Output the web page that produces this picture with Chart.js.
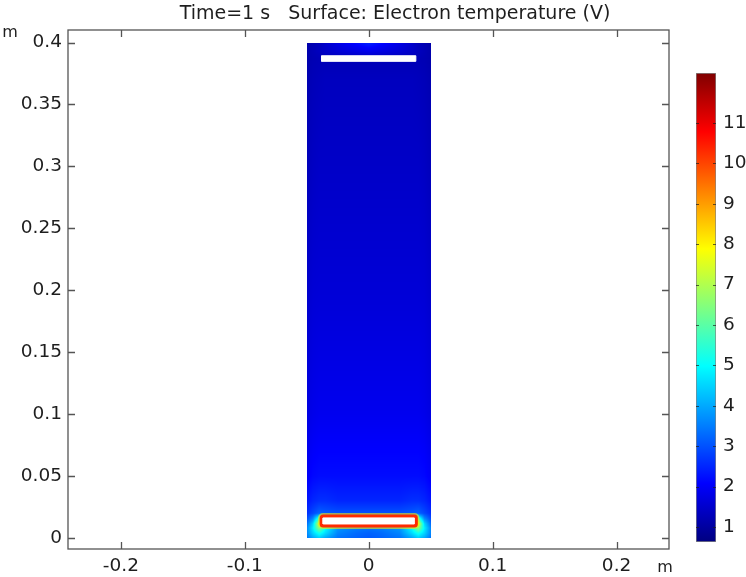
<!DOCTYPE html>
<html>
<head>
<meta charset="utf-8">
<script src="https://cdn.jsdelivr.net/npm/chart.js@4.4.1/dist/chart.umd.min.js"></script>
<style>
  html, body { margin: 0; padding: 0; background: #fff; }
  #wrap { position: relative; width: 746px; height: 577px; }
  #plot { position: absolute; left: 0; top: 0; }
  #cbar { position: absolute; left: 680px; top: 60px; }
</style>
</head>
<body>
<div id="wrap">
  <canvas id="plot" width="746" height="577"></canvas>
  <canvas id="cbar" width="66" height="490"></canvas>
</div>
<script>
// axes
const xRange = [-0.2427, 0.2423]
const yRange = [-0.0089, 0.4101]
const xTicks = [-0.2, -0.1, 0, 0.1, 0.2]
const xTickLabels = ['-0.2', '-0.1', '0', '0.1', '0.2']
const yTicks = [0, 0.05, 0.1, 0.15, 0.2, 0.25, 0.3, 0.35, 0.4]
const yTickLabels = ['0', '0.05', '0.1', '0.15', '0.2', '0.25', '0.3', '0.35', '0.4']

// colour bar (electron temperature, V)
const cbRange = [0.63, 12.24]
const cbTicks = [1, 2, 3, 4, 5, 6, 7, 8, 9, 10, 11]

// electron temperature sampled on the chamber cross-section
const fieldX = [-0.05, -0.045, -0.04, -0.035, -0.025, -0.01, 0, 0.01, 0.025, 0.035, 0.04, 0.045, 0.05]
const fieldY = [0, 0.004, 0.008, 0.0115, 0.016, 0.02, 0.03, 0.05, 0.1, 0.2, 0.3, 0.37, 0.387, 0.393, 0.4]
const fieldTe = [
  [3.4, 4.0, 4.4, 4.0, 3.4, 3.2, 3.1, 3.2, 3.4, 4.0, 4.4, 4.0, 3.4],
  [3.6, 4.5, 5.2, 4.6, 3.6, 3.3, 3.2, 3.3, 3.6, 4.6, 5.2, 4.5, 3.6],
  [3.6, 4.8, 6.6, 5.0, 3.8, 3.5, 3.4, 3.5, 3.8, 5.0, 6.6, 4.8, 3.6],
  [3.3, 4.5, 7.5, 6.0, 5.5, 5.5, 5.5, 5.5, 5.5, 6.0, 7.5, 4.5, 3.3],
  [2.9, 3.6, 5.5, 5.0, 4.5, 4.5, 4.5, 4.5, 4.5, 5.0, 5.5, 3.6, 2.9],
  [2.6, 2.9, 3.2, 3.1, 3.0, 3.0, 3.0, 3.0, 3.0, 3.1, 3.2, 2.9, 2.6],
  [2.3, 2.5, 2.6, 2.6, 2.5, 2.5, 2.5, 2.5, 2.5, 2.6, 2.6, 2.5, 2.3],
  [2.0, 2.15, 2.2, 2.2, 2.2, 2.2, 2.2, 2.2, 2.2, 2.2, 2.2, 2.15, 2.0],
  [1.75, 1.85, 1.9, 1.9, 1.9, 1.9, 1.9, 1.9, 1.9, 1.9, 1.9, 1.85, 1.75],
  [1.5, 1.6, 1.62, 1.62, 1.62, 1.62, 1.62, 1.62, 1.62, 1.62, 1.62, 1.6, 1.5],
  [1.3, 1.4, 1.45, 1.45, 1.45, 1.45, 1.45, 1.45, 1.45, 1.45, 1.45, 1.4, 1.3],
  [1.2, 1.28, 1.32, 1.35, 1.35, 1.35, 1.35, 1.35, 1.35, 1.35, 1.32, 1.28, 1.2],
  [1.15, 1.22, 1.25, 1.25, 1.25, 1.25, 1.25, 1.25, 1.25, 1.25, 1.25, 1.22, 1.15],
  [1.15, 1.25, 1.35, 1.45, 1.6, 1.75, 1.85, 1.75, 1.6, 1.45, 1.35, 1.25, 1.15],
  [1.1, 1.2, 1.3, 1.5, 1.8, 2.2, 2.5, 2.2, 1.8, 1.5, 1.3, 1.2, 1.1]
]

// electrodes (m) and sheath temperature around the powered one
const topElectrode = [[-0.038, 0.3848], [0.038, 0.3848], [0.038, 0.3893], [-0.038, 0.3893], [-0.038, 0.3848]]
const bottomElectrode = [[-0.0368, 0.0113], [0.0368, 0.0113], [0.0368, 0.0162], [-0.0368, 0.0162], [-0.0368, 0.0113]]
const sheathTe = 10.3
const sheathEdgeTe = 8.2

const FONT = 'DejaVu Sans, Verdana, sans-serif'
const TEXT = '#1e1e1e'
const FRAME = '#555'
const TICK_SIZE = 18.5

function clamp01(v) { return Math.max(0, Math.min(1, v)) }

function jet(t) {
  t = clamp01(t)
  return [
    clamp01(1.5 - Math.abs(4 * t - 3)),
    clamp01(1.5 - Math.abs(4 * t - 2)),
    clamp01(1.5 - Math.abs(4 * t - 1))
  ]
}

function teColor(te, alpha = 1) {
  const c = jet((te - cbRange[0]) / (cbRange[1] - cbRange[0]))
  return `rgba(${Math.round(c[0] * 255)},${Math.round(c[1] * 255)},${Math.round(c[2] * 255)},${alpha})`
}

function findCell(arr, v) {
  let i = 0
  while (i < arr.length - 2 && v > arr[i + 1]) i++
  const f = clamp01((v - arr[i]) / (arr[i + 1] - arr[i]))
  return [i, f]
}

function sampleTe(xv, yv) {
  const [i, fx] = findCell(fieldX, xv)
  const [j, fy] = findCell(fieldY, yv)
  const a = fieldTe[j][i], b = fieldTe[j][i + 1]
  const c = fieldTe[j + 1][i], d = fieldTe[j + 1][i + 1]
  return (a * (1 - fx) + b * fx) * (1 - fy) + (c * (1 - fx) + d * fx) * fy
}

// surface plot of the field, painted under the datasets
const surfacePlugin = {
  id: 'surface',
  beforeDatasetsDraw(chart) {
    const { ctx, scales: { x, y } } = chart
    const px0 = Math.round(x.getPixelForValue(fieldX[0]))
    const px1 = Math.round(x.getPixelForValue(fieldX[fieldX.length - 1]))
    const py0 = Math.round(y.getPixelForValue(fieldY[fieldY.length - 1]))
    const py1 = Math.round(y.getPixelForValue(fieldY[0]))
    const w = px1 - px0, h = py1 - py0
    const off = document.createElement('canvas')
    off.width = w
    off.height = h
    const octx = off.getContext('2d')
    const img = octx.createImageData(w, h)
    for (let j = 0; j < h; j++) {
      const yv = y.getValueForPixel(py0 + j + 0.5)
      for (let i = 0; i < w; i++) {
        const xv = x.getValueForPixel(px0 + i + 0.5)
        const c = jet((sampleTe(xv, yv) - cbRange[0]) / (cbRange[1] - cbRange[0]))
        const k = (j * w + i) * 4
        img.data[k] = c[0] * 255
        img.data[k + 1] = c[1] * 255
        img.data[k + 2] = c[2] * 255
        img.data[k + 3] = 255
      }
    }
    octx.putImageData(img, 0, 0)
    ctx.drawImage(off, px0, py0)
  }
}

// box frame with inward ticks, title and unit labels
const framePlugin = {
  id: 'frame',
  afterDraw(chart) {
    const { ctx, chartArea: a, scales: { x, y } } = chart
    ctx.save()
    ctx.strokeStyle = FRAME
    ctx.lineWidth = 1.3
    ctx.strokeRect(a.left, a.top, a.right - a.left, a.bottom - a.top)
    ctx.beginPath()
    xTicks.forEach(v => {
      const p = Math.round(x.getPixelForValue(v)) + 0.5
      ctx.moveTo(p, a.bottom); ctx.lineTo(p, a.bottom - 7)
      ctx.moveTo(p, a.top); ctx.lineTo(p, a.top + 7)
    })
    yTicks.forEach(v => {
      const p = Math.round(y.getPixelForValue(v)) + 0.5
      ctx.moveTo(a.left, p); ctx.lineTo(a.left + 7, p)
      ctx.moveTo(a.right, p); ctx.lineTo(a.right - 7, p)
    })
    ctx.stroke()

    ctx.fillStyle = TEXT
    ctx.textBaseline = 'middle'
    ctx.textAlign = 'center'
    ctx.font = `19px ${FONT}`
    ctx.fillText('Time=1 s   Surface: Electron temperature (V)', 395, 14)
    ctx.font = `16px ${FONT}`
    ctx.fillText('m', 10, 33)
    ctx.fillText('m', 665, 568)
    ctx.restore()
  }
}

function loop(pts) {
  return pts.map(p => ({ x: p[0], y: p[1] }))
}

function noEdgePadding(s) {
  s.paddingTop = 0
  s.paddingBottom = 0
  s.paddingLeft = 0
  s.paddingRight = 0
}

new Chart(document.getElementById('plot'), {
  type: 'scatter',
  data: {
    datasets: [
      {
        data: loop(topElectrode),
        showLine: true,
        fill: 'shape',
        backgroundColor: '#fff',
        borderColor: '#fff',
        borderWidth: 1,
        pointRadius: 0,
        order: 1
      },
      {
        data: loop(bottomElectrode),
        showLine: true,
        fill: 'shape',
        backgroundColor: '#fff',
        borderColor: '#fff',
        borderWidth: 1,
        pointRadius: 0,
        order: 1
      },
      {
        data: loop(bottomElectrode),
        showLine: true,
        borderColor: teColor(sheathTe),
        borderWidth: 7,
        borderJoinStyle: 'round',
        pointRadius: 0,
        order: 2
      },
      {
        data: loop(bottomElectrode),
        showLine: true,
        borderColor: teColor(sheathEdgeTe, 0.6),
        borderWidth: 10,
        borderJoinStyle: 'round',
        pointRadius: 0,
        order: 3
      }
    ]
  },
  options: {
    responsive: false,
    animation: false,
    events: [],
    layout: { padding: { top: 30, right: 77, left: 0, bottom: 0 } },
    plugins: { legend: { display: false }, tooltip: { enabled: false } },
    scales: {
      x: {
        type: 'linear',
        min: xRange[0],
        max: xRange[1],
        afterBuildTicks: s => { s.ticks = xTicks.map(v => ({ value: v })) },
        afterFit: s => { s.height = 28; noEdgePadding(s) },
        grid: { display: false, drawTicks: false },
        border: { display: false },
        ticks: {
          autoSkip: false,
          maxRotation: 0,
          padding: 6,
          color: TEXT,
          font: { family: FONT, size: TICK_SIZE },
          callback: (v) => xTickLabels[xTicks.indexOf(v)]
        }
      },
      y: {
        type: 'linear',
        min: yRange[0],
        max: yRange[1],
        afterBuildTicks: s => { s.ticks = yTicks.map(v => ({ value: v })) },
        afterFit: s => { s.width = 68; noEdgePadding(s) },
        grid: { display: false, drawTicks: false },
        border: { display: false },
        ticks: {
          autoSkip: false,
          padding: 6,
          color: TEXT,
          font: { family: FONT, size: TICK_SIZE },
          callback: (v) => yTickLabels[yTicks.indexOf(v)]
        }
      }
    }
  },
  plugins: [surfacePlugin, framePlugin]
})

// small tick marks on both edges of the colour bar
const cbTickPlugin = {
  id: 'cbTicks',
  afterDatasetsDraw(chart) {
    const { ctx, chartArea: a, scales: { y } } = chart
    ctx.save()
    ctx.strokeStyle = 'rgba(30,30,30,0.7)'
    ctx.lineWidth = 1
    ctx.beginPath()
    cbTicks.forEach(v => {
      const p = Math.round(y.getPixelForValue(v)) + 0.5
      ctx.moveTo(a.left, p); ctx.lineTo(a.left + 3, p)
      ctx.moveTo(a.right, p); ctx.lineTo(a.right - 3, p)
    })
    ctx.stroke()
    ctx.restore()
  }
}

new Chart(document.getElementById('cbar'), {
  type: 'bar',
  data: {
    labels: ['Te'],
    datasets: [{
      data: [cbRange],
      backgroundColor: (c) => {
        const { ctx, chartArea, scales } = c.chart
        if (!chartArea) return '#00f'
        const g = ctx.createLinearGradient(0, scales.y.getPixelForValue(cbRange[0]), 0, scales.y.getPixelForValue(cbRange[1]))
        for (let k = 0; k <= 40; k++) g.addColorStop(k / 40, teColor(cbRange[0] + (cbRange[1] - cbRange[0]) * k / 40))
        return g
      },
      borderColor: 'rgba(50,50,50,0.6)',
      borderWidth: 1,
      borderSkipped: false,
      barPercentage: 1,
      categoryPercentage: 1
    }]
  },
  options: {
    responsive: false,
    animation: false,
    events: [],
    layout: { padding: { left: 16, top: 13, bottom: 8, right: 0 } },
    plugins: { legend: { display: false }, tooltip: { enabled: false } },
    scales: {
      x: { display: false },
      y: {
        position: 'right',
        min: cbRange[0],
        max: cbRange[1],
        afterBuildTicks: s => { s.ticks = cbTicks.map(v => ({ value: v })) },
        afterFit: s => { s.width = 30; noEdgePadding(s) },
        grid: { display: false, drawTicks: false },
        border: { display: false },
        ticks: {
          autoSkip: false,
          padding: 7,
          color: TEXT,
          font: { family: FONT, size: TICK_SIZE },
          callback: (v) => String(v)
        }
      }
    }
  },
  plugins: [cbTickPlugin]
})
</script>
</body>
</html>
